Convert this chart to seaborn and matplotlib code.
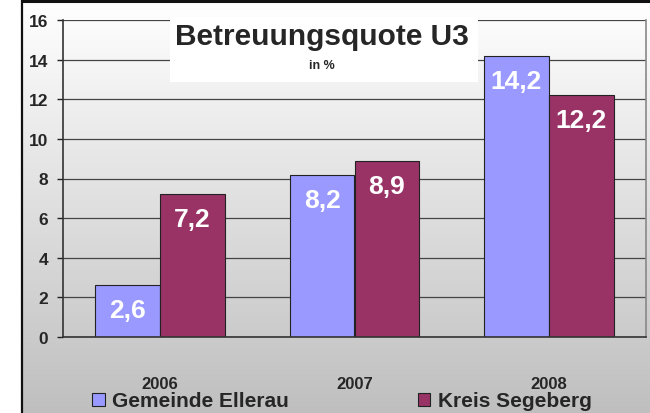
import numpy as np
import pandas as pd
import matplotlib
matplotlib.use("Agg")
import matplotlib.pyplot as plt
from matplotlib.patches import Rectangle
from matplotlib.lines import Line2D
import seaborn as sns

# ---- data ----
years = ["2006", "2007", "2008"]
ellerau = [2.6, 8.2, 14.2]
segeberg = [7.2, 8.9, 12.2]
series_names = ["Gemeinde Ellerau", "Kreis Segeberg"]
yticks = [0, 2, 4, 6, 8, 10, 12, 14, 16]
title = "Betreuungsquote U3"
subtitle = "in %"

colors = ["#9999FF", "#993366"]

df = pd.DataFrame({
    "Jahr": years * 2,
    "Quote": ellerau + segeberg,
    "Region": [series_names[0]] * 3 + [series_names[1]] * 3,
})

sns.set_style("white")
plt.rcParams["font.family"] = ["Liberation Sans", "DejaVu Sans"]

W, H = 650, 414
fig = plt.figure(figsize=(W / 100, H / 100), dpi=100)
fig.patch.set_facecolor("white")

# gradient background
bg = fig.add_axes([22 / W, 0, (W - 22) / W, 1 - 2 / H], zorder=-10)
grad = np.linspace(1.0, 0.75, 256).reshape(-1, 1)
bg.imshow(np.dstack([grad, grad, grad]), aspect="auto", extent=[0, 1, 0, 1])
bg.set_axis_off()

# frame lines
fig.add_artist(Line2D([22 / W, 1], [1 - 1.5 / H, 1 - 1.5 / H], transform=fig.transFigure,
                      color="#111111", lw=2.2))
fig.add_artist(Line2D([22 / W, 22 / W], [0, 1], transform=fig.transFigure,
                      color="#111111", lw=1.6))

x0, x1 = 63, 646
y0, y1 = 338, 21
ax = fig.add_axes([x0 / W, (H - y0) / H, (x1 - x0) / W, (y0 - y1) / H])
ax.patch.set_alpha(0)

sns.barplot(data=df, x="Jahr", y="Quote", hue="Region", palette=colors,
            saturation=1, width=0.668, edgecolor="#222222", linewidth=0.8,
            ax=ax)
handles, labels = ax.get_legend_handles_labels()
if ax.get_legend() is not None:
    ax.get_legend().remove()

ax.set_xlim(-0.5, 2.5)
ax.set_ylim(0, 16)
ax.set_yticks(yticks)
ax.set_yticklabels([str(t) for t in yticks], fontsize=12.5, fontweight="bold")
ax.set_xticks(range(len(years)))
ax.set_xticklabels(years, fontsize=12, fontweight="bold")
ax.set_xlabel("")
ax.set_ylabel("")
ax.tick_params(axis="x", which="major", length=0, pad=28)
ax.set_xticks([-0.5, 0.5, 1.5, 2.5], minor=True)
ax.tick_params(axis="x", which="minor", length=4.5, width=1, color="#222222", direction="out")
ax.tick_params(axis="y", length=4.5, width=1, color="#222222", direction="out", pad=6, left=True)

ax.set_axisbelow(True)
ax.yaxis.grid(True, color="#444444", lw=0.9)
ax.xaxis.grid(False)
for s in ["left", "bottom"]:
    ax.spines[s].set_visible(True)
    ax.spines[s].set_color("#333333")
    ax.spines[s].set_linewidth(1.2)
ax.spines["right"].set_visible(True)
ax.spines["right"].set_color("#888888")
ax.spines["right"].set_linewidth(1.2)
ax.spines["top"].set_visible(False)

# value labels inside bars
all_vals = [ellerau, segeberg]
for cont, vals in zip(ax.containers, all_vals):
    for bar, v in zip(cont, vals):
        ax.annotate(f"{v:.1f}".replace(".", ","),
                    (bar.get_x() + bar.get_width() / 2, bar.get_height()),
                    xytext=(0, -18), textcoords="offset points",
                    ha="center", va="center", color="white",
                    fontsize=19, fontweight="bold")

# title box
fig.patches.append(Rectangle((170 / W, 1 - 83 / H), (478 - 170) / W, (83 - 18) / H,
                             transform=fig.transFigure, facecolor="white",
                             edgecolor="none", zorder=1))
fig.text(322 / W, 1 - 37 / H, title, ha="center", va="center",
         fontsize=21.5, fontweight="bold", zorder=2)
fig.text(322 / W, 1 - 66 / H, subtitle, ha="center", va="center",
         fontsize=9, fontweight="bold", zorder=2)

# legend
fig.legend(handles, labels, loc="center left",
           bbox_to_anchor=(92 / W, 1 - 402 / H), ncol=2, frameon=False,
           prop={"size": 15, "weight": "bold"}, handlelength=0.6,
           handleheight=0.6, handletextpad=0.35, columnspacing=6.2,
           borderpad=0, borderaxespad=0)

fig.savefig("out.png", dpi=100)
